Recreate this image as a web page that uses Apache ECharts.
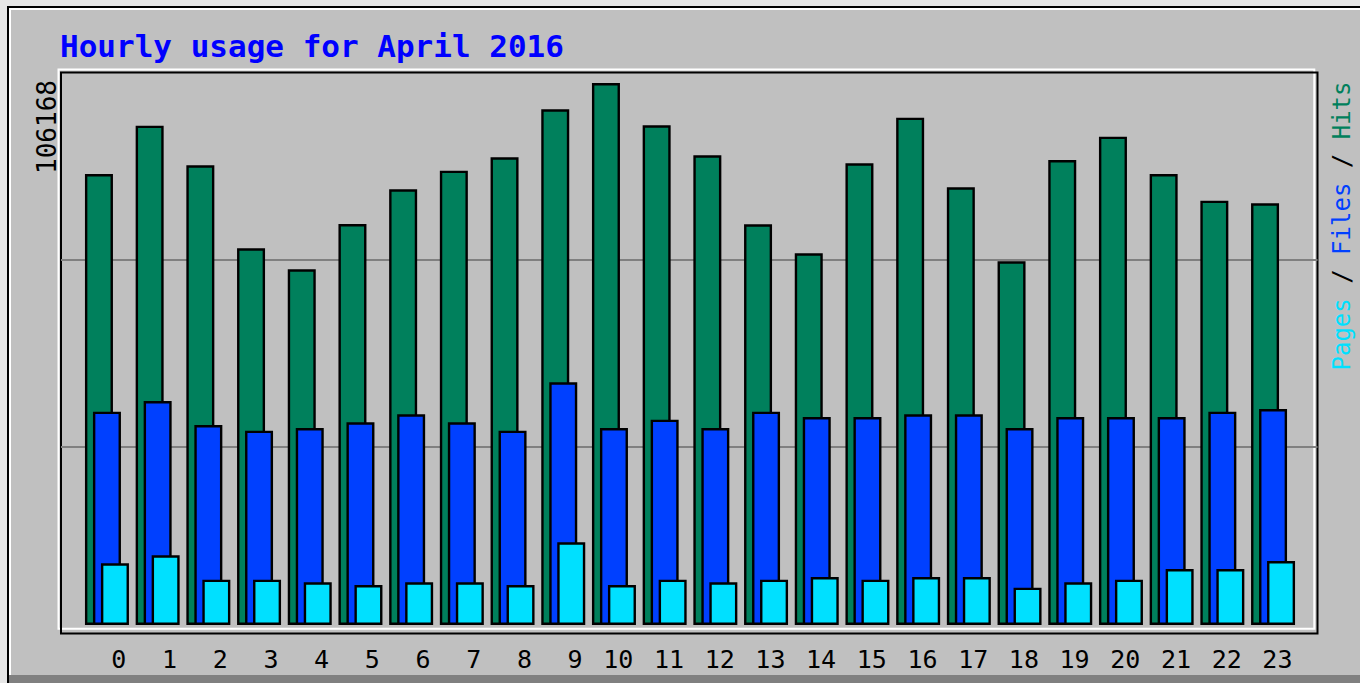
<!DOCTYPE html>
<html>
<head>
<meta charset="utf-8">
<script src="https://cdn.jsdelivr.net/npm/echarts@6/dist/echarts.min.js"></script>
<style>
html,body{margin:0;padding:0;background:#e6e6e6;}
#chart{width:1360px;height:683px;}
</style>
</head>
<body>
<div id="chart"></div>
<script>
const titleText = 'Hourly usage for April 2016';
const hours = ['0','1','2','3','4','5','6','7','8','9','10','11','12','13','14','15','16','17','18','19','20','21','22','23'];
const hits  = [88340, 97800, 90050, 73790, 69680, 78550, 85350, 88990, 91610, 101020, 106168, 97880, 92000, 78490, 72810, 90440, 99370, 85740, 71240, 91080, 95650, 88340, 83110, 82600];
const files = [41780, 43880, 39180, 38060, 38590, 39700, 41270, 39700, 38060, 47540, 38590, 40210, 38590, 41780, 40740, 40740, 41270, 41270, 38590, 40740, 40740, 40740, 41780, 42310];
const pages = [12090, 13650, 8870, 8870, 8360, 7840, 8360, 8360, 7840, 16200, 7840, 8870, 8360, 8870, 9400, 8870, 9400, 9400, 7310, 8360, 8870, 10970, 10970, 12540];
const yTickLabels = ['106168'];
const legendNames = ['Pages', 'Files', 'Hits'];

const C_HITS = '#00805c', C_FILES = '#0040ff', C_PAGES = '#00e0ff';
const MONO = '"DejaVu Sans Mono", monospace';

const chart = echarts.init(document.getElementById('chart'), null, {renderer: 'svg'});

function barSeries(name, data, color) {
  return {
    name: name, type: 'bar', xAxisIndex: 2, yAxisIndex: 2, data: data,
    barWidth: 28, barGap: '-71.43%', barCategoryGap: 0,
    itemStyle: {color: color, borderColor: '#000', borderWidth: 2.4},
    emphasis: {disabled: true}, animation: false
  };
}

chart.setOption({
  backgroundColor: '#c0c0c0',
  animation: false,
  grid: [
    {left: 58.5, top: 69.5, right: 45.7, bottom: 54.3, show: true, borderColor: '#ffffff', borderWidth: 2, backgroundColor: 'transparent'},
    {left: 61, top: 72.5, right: 42.5, bottom: 49.5, show: true, borderColor: '#000000', borderWidth: 2, backgroundColor: 'transparent'},
    {left: 81.6, top: 72.5, right: 61.6, bottom: 49.5},
    {left: 101, top: 72.5, right: 42.2, bottom: 49.5}
  ],
  xAxis: [
    {gridIndex: 0, type: 'value', show: false},
    {gridIndex: 1, type: 'value', show: false},
    {gridIndex: 2, type: 'category', data: hours, show: false},
    {gridIndex: 3, type: 'category', data: hours, axisLine: {show: false}, axisTick: {show: false},
     axisLabel: {interval: 0, align: 'right', verticalAlign: 'middle', margin: 26, fontFamily: MONO, fontSize: 25, color: '#000'}}
  ],
  yAxis: [
    {gridIndex: 0, type: 'value', show: false},
    {gridIndex: 1, type: 'value', min: 0, max: 3, interval: 1, axisLine: {show: false}, axisTick: {show: false}, axisLabel: {show: false},
     splitLine: {show: true, showMinLine: false, showMaxLine: false, lineStyle: {color: '#808080', width: 2}}},
    {gridIndex: 2, type: 'value', min: -1665, max: 108224, show: false, splitLine: {show: false}},
    {gridIndex: 3, type: 'value', show: false}
  ],
  series: [
    barSeries(legendNames[2], hits, C_HITS),
    barSeries(legendNames[1], files, C_FILES),
    barSeries(legendNames[0], pages, C_PAGES)
  ],
  graphic: [
    {type: 'rect', shape: {x: 0, y: 0, width: 7, height: 683}, style: {fill: '#e6e6e6'}, silent: true},
    {type: 'rect', shape: {x: 0, y: 0, width: 1360, height: 6}, style: {fill: '#e6e6e6'}, silent: true},
    {type: 'rect', shape: {x: 7, y: 6, width: 2, height: 677}, style: {fill: '#000'}, silent: true},
    {type: 'rect', shape: {x: 7, y: 6, width: 1353, height: 2}, style: {fill: '#000'}, silent: true},
    {type: 'rect', shape: {x: 9, y: 8, width: 2, height: 675}, style: {fill: '#fff'}, silent: true},
    {type: 'rect', shape: {x: 9, y: 8, width: 1351, height: 2}, style: {fill: '#fff'}, silent: true},
    {type: 'rect', shape: {x: 9, y: 675, width: 1351, height: 8}, style: {fill: '#808080'}, silent: true},
    {type: 'text', x: 60, y: 46, silent: true,
     style: {text: titleText, fill: '#0000ff', font: 'bold 31px ' + MONO, align: 'left', verticalAlign: 'middle'}},
    {type: 'text', x: 47, y: 127, rotation: Math.PI / 2, silent: true,
     style: {text: yTickLabels[0], fill: '#000', font: '26px ' + MONO, align: 'center', verticalAlign: 'middle'}},
    {type: 'text', x: 1342, y: 226, rotation: Math.PI / 2, silent: true,
     style: {
       text: '{p|' + legendNames[0] + '} {s|/} {f|' + legendNames[1] + '} {s|/} {h|' + legendNames[2] + '}',
       font: '24px ' + MONO, fill: '#000', align: 'center', verticalAlign: 'middle',
       rich: {
         p: {fill: C_PAGES, font: '24px ' + MONO},
         f: {fill: C_FILES, font: '24px ' + MONO},
         h: {fill: C_HITS, font: '24px ' + MONO},
         s: {fill: '#000', font: '24px ' + MONO}
       }
     }}
  ]
});
</script>
</body>
</html>
